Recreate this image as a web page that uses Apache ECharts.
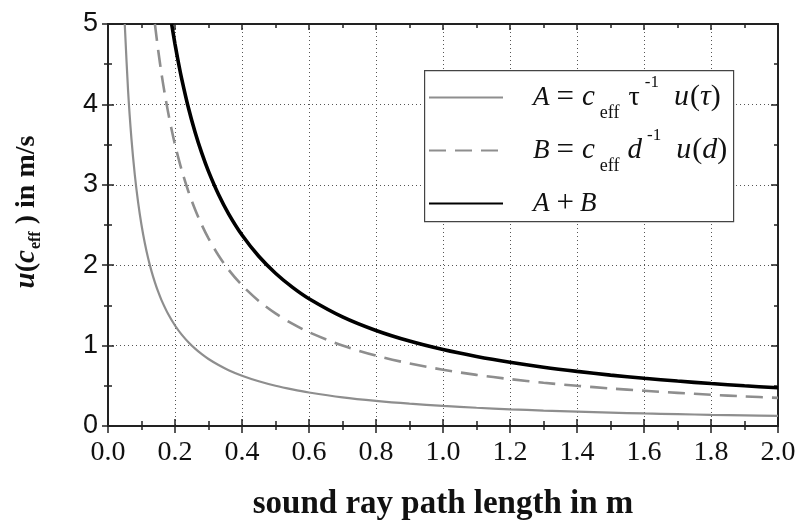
<!DOCTYPE html>
<html><head><meta charset="utf-8">
<script src="https://cdn.jsdelivr.net/npm/echarts@6/dist/echarts.min.js"></script>
<style>html,body{margin:0;padding:0;background:#fff}#c{width:799px;height:526px}</style>
</head><body><div id="c"></div>
<script>
// Data
const xA = [0.05,0.06,0.07,0.08,0.09,0.10,0.11,0.12,0.13,0.14,0.15,0.16,0.18,0.20,0.22,0.24,0.26,0.28,0.30,0.33,0.36,0.40,0.45,0.50,0.55,0.60,0.70,0.80,0.90,1.0,1.1,1.2,1.3,1.4,1.5,1.6,1.7,1.8,1.9,2.0];
const yA = [5.0,4.167,3.571,3.125,2.778,2.5,2.273,2.083,1.923,1.786,1.667,1.563,1.389,1.25,1.136,1.042,0.962,0.893,0.833,0.758,0.694,0.625,0.556,0.5,0.455,0.417,0.357,0.313,0.278,0.25,0.227,0.208,0.192,0.179,0.167,0.156,0.147,0.139,0.132,0.125];
const xB = [0.14,0.15,0.16,0.17,0.18,0.19,0.20,0.22,0.24,0.26,0.28,0.30,0.33,0.36,0.40,0.45,0.50,0.55,0.60,0.70,0.80,0.90,1.0,1.1,1.2,1.3,1.4,1.5,1.6,1.7,1.8,1.9,2.0];
const yB = [5.0,4.667,4.375,4.118,3.889,3.684,3.5,3.182,2.917,2.692,2.5,2.333,2.121,1.944,1.75,1.556,1.4,1.273,1.167,1.0,0.875,0.778,0.7,0.636,0.583,0.538,0.5,0.467,0.438,0.412,0.389,0.368,0.35];
const xAB = [0.19,0.20,0.21,0.22,0.24,0.26,0.28,0.30,0.33,0.36,0.40,0.45,0.50,0.55,0.60,0.70,0.80,0.90,1.0,1.1,1.2,1.3,1.4,1.5,1.6,1.7,1.8,1.9,2.0];
const yAB = [5.0,4.75,4.524,4.318,3.958,3.654,3.393,3.167,2.879,2.639,2.375,2.111,1.9,1.727,1.583,1.357,1.188,1.056,0.95,0.864,0.792,0.731,0.679,0.633,0.594,0.559,0.528,0.5,0.475];
const seriesNames = ['A', 'B', 'A+B'];
const xTickLabels = ['0.0','0.2','0.4','0.6','0.8','1.0','1.2','1.4','1.6','1.8','2.0'];
const yTickLabels = ['0','1','2','3','4','5'];

const serif = '"Liberation Serif", "Times New Roman", serif';
const sans = '"Liberation Sans", Arial, sans-serif';
const axisCol = '#222';

function pairs(xs, ys) { return xs.map((x, i) => [x, ys[i]]); }

function xAx(opts) {
  return Object.assign({
    type: 'value', min: 0, max: 2, interval: 0.2, position: 'bottom',
    axisLine: { show: true, onZero: false, lineStyle: { color: axisCol, width: 2 } },
    axisTick: { show: true, inside: false, length: 7, lineStyle: { color: axisCol, width: 1.5 } },
    minorTick: { show: true, splitNumber: 2, length: 4, lineStyle: { color: axisCol, width: 1.5 } },
    axisLabel: { show: false },
    splitLine: { show: false }
  }, opts);
}
function yAx(opts) {
  return Object.assign({
    type: 'value', min: 0, max: 5, interval: 1, position: 'left',
    axisLine: { show: true, onZero: false, lineStyle: { color: axisCol, width: 2 } },
    axisTick: { show: true, inside: false, length: 6, lineStyle: { color: axisCol, width: 1.5 } },
    minorTick: { show: true, splitNumber: 2, length: 4, lineStyle: { color: axisCol, width: 1.5 } },
    axisLabel: { show: false },
    splitLine: { show: false }
  }, opts);
}

const chart = echarts.init(document.getElementById('c'), null, { renderer: 'canvas' });

const FS = 26, LH = 50;
const rich = {
  i: { fontFamily: serif, fontStyle: 'italic', fontSize: FS + 1, lineHeight: LH, color: '#111' },
  n: { fontFamily: serif, fontSize: FS, lineHeight: LH, color: '#111' },
  eq: { fontFamily: serif, fontSize: FS + 5, lineHeight: LH, color: '#111', padding: [0, 6, 0, 7] },
  ci: { fontFamily: serif, fontStyle: 'italic', fontSize: FS + 3, lineHeight: LH, color: '#111', padding: [0, 0, 0, 2] },
  sub: { fontFamily: serif, fontSize: 18, lineHeight: 16, verticalAlign: 'bottom', color: '#111', padding: [0, 0, 0, 5] },
  sup: { fontFamily: serif, fontSize: 17, lineHeight: 17, verticalAlign: 'middle', color: '#111', padding: [0, 0, 30, 5] },
  tau: { fontFamily: serif, fontSize: FS + 2, lineHeight: LH, color: '#111', padding: [0, 0, 0, 9] },
  d: { fontFamily: serif, fontStyle: 'italic', fontSize: FS + 3, lineHeight: LH, color: '#111', padding: [0, 0, 0, 8] },
  u: { fontFamily: serif, fontStyle: 'italic', fontSize: FS + 4, lineHeight: LH, color: '#111', padding: [0, 1, 0, 15] },
  pn: { fontFamily: serif, fontSize: FS + 4, lineHeight: LH, color: '#111' },
  pi: { fontFamily: serif, fontStyle: 'italic', fontSize: FS + 4, lineHeight: LH, color: '#111' },
  sp: { width: 25 }
};
const legendText = {
  'A': '{sp|}{i|A}{eq|=}{ci|c}{sub|eff}{tau|τ}{sup|-1}{u|u}{pn|(}{pi|τ}{pn|)}',
  'B': '{sp|}{i|B}{eq|=}{ci|c}{sub|eff}{d|d}{sup|-1}{u|u}{pn|(}{pi|d}{pn|)}',
  'A+B': '{sp|}{i|A}{eq|+}{i|B}{sub| }{sup| }'
};

chart.setOption({
  animation: false,
  backgroundColor: '#fff',
  grid: { left: 108, right: 21, top: 24, bottom: 94, containLabel: false },
  xAxis: [
    xAx({
      axisLabel: { show: true, fontFamily: serif, fontSize: 28, color: '#111', margin: 13,
        formatter: v => xTickLabels[Math.round(v / 0.2)] },
      splitLine: { show: true, lineStyle: { color: '#555', width: 1, type: [1, 3] } },
      name: 'sound ray path length in m', nameLocation: 'middle', nameGap: 62,
      nameTextStyle: { fontFamily: serif, fontWeight: 'bold', fontSize: 33, color: '#111' }
    }),
    xAx({ axisTick: { show: true, inside: true, length: 7, lineStyle: { color: axisCol, width: 1.5 } },
          minorTick: { show: true, splitNumber: 2, length: 5, lineStyle: { color: axisCol, width: 1.5 } } }),
    xAx({ position: 'top', axisTick: { show: true, inside: true, length: 6, lineStyle: { color: axisCol, width: 1.5 } },
          minorTick: { show: true, splitNumber: 2, length: 4, lineStyle: { color: axisCol, width: 1.5 } } })
  ],
  yAxis: [
    yAx({
      axisLabel: { show: true, fontFamily: sans, fontSize: 27, color: '#111', margin: 10,
        formatter: v => yTickLabels[Math.round(v)] },
      splitLine: { show: true, lineStyle: { color: '#555', width: 1, type: [1, 3] } },
      name: '{b|u}{p|(}{b|c}{s|eff}{p| ) in m/s}', nameLocation: 'middle', nameGap: 64, nameRotate: 90,
      nameTextStyle: {
        padding: [0, 0, 0, 26],
        rich: {
          b: { fontFamily: serif, fontWeight: 'bold', fontStyle: 'italic', fontSize: 29, lineHeight: 34, color: '#111' },
          p: { fontFamily: serif, fontWeight: 'bold', fontSize: 28, lineHeight: 34, color: '#111' },
          s: { fontFamily: serif, fontWeight: 'bold', fontSize: 16, lineHeight: 12, verticalAlign: 'bottom', color: '#111', padding: [0, 0, 0, 1] }
        }
      }
    }),
    yAx({ axisTick: { show: true, inside: true, length: 6, lineStyle: { color: axisCol, width: 1.5 } },
          minorTick: { show: true, splitNumber: 2, length: 4, lineStyle: { color: axisCol, width: 1.5 } } }),
    yAx({ position: 'right', axisTick: { show: true, inside: true, length: 7, lineStyle: { color: axisCol, width: 1.5 } },
          minorTick: { show: true, splitNumber: 2, length: 4, lineStyle: { color: axisCol, width: 1.5 } } })
  ],
  graphic: [{
    type: 'rect', left: 424, top: 70, z: 10,
    shape: { width: 309, height: 151 },
    style: { fill: '#fff', stroke: '#444', lineWidth: 1.2 }
  }],
  legend: {
    orient: 'vertical', left: 428, top: 74, z: 20,
    padding: 0,
    itemWidth: 74, itemHeight: 14, itemGap: 4.5,
    data: seriesNames,
    formatter: n => legendText[n],
    textStyle: { rich: rich },
    itemStyle: { color: 'rgba(0,0,0,0)', borderWidth: 0, opacity: 0 },
    selectedMode: false
  },
  series: [
    { name: 'A', type: 'line', data: pairs(xA, yA), smooth: 0.3, showSymbol: false, symbol: 'none',
      clip: true, lineStyle: { color: '#8e8e8e', width: 2.2 }, itemStyle: { color: '#8e8e8e' }, z: 3 },
    { name: 'B', type: 'line', data: pairs(xB, yB), smooth: 0.3, showSymbol: false, symbol: 'none',
      clip: true, lineStyle: { color: '#8e8e8e', width: 2.6, type: [17, 9] }, itemStyle: { color: '#8e8e8e' }, z: 3 },
    { name: 'A+B', type: 'line', data: pairs(xAB, yAB), smooth: 0.3, showSymbol: false, symbol: 'none',
      clip: true, lineStyle: { color: '#000', width: 3.6 }, itemStyle: { color: '#000' }, z: 4 }
  ]
});
</script></body></html>
